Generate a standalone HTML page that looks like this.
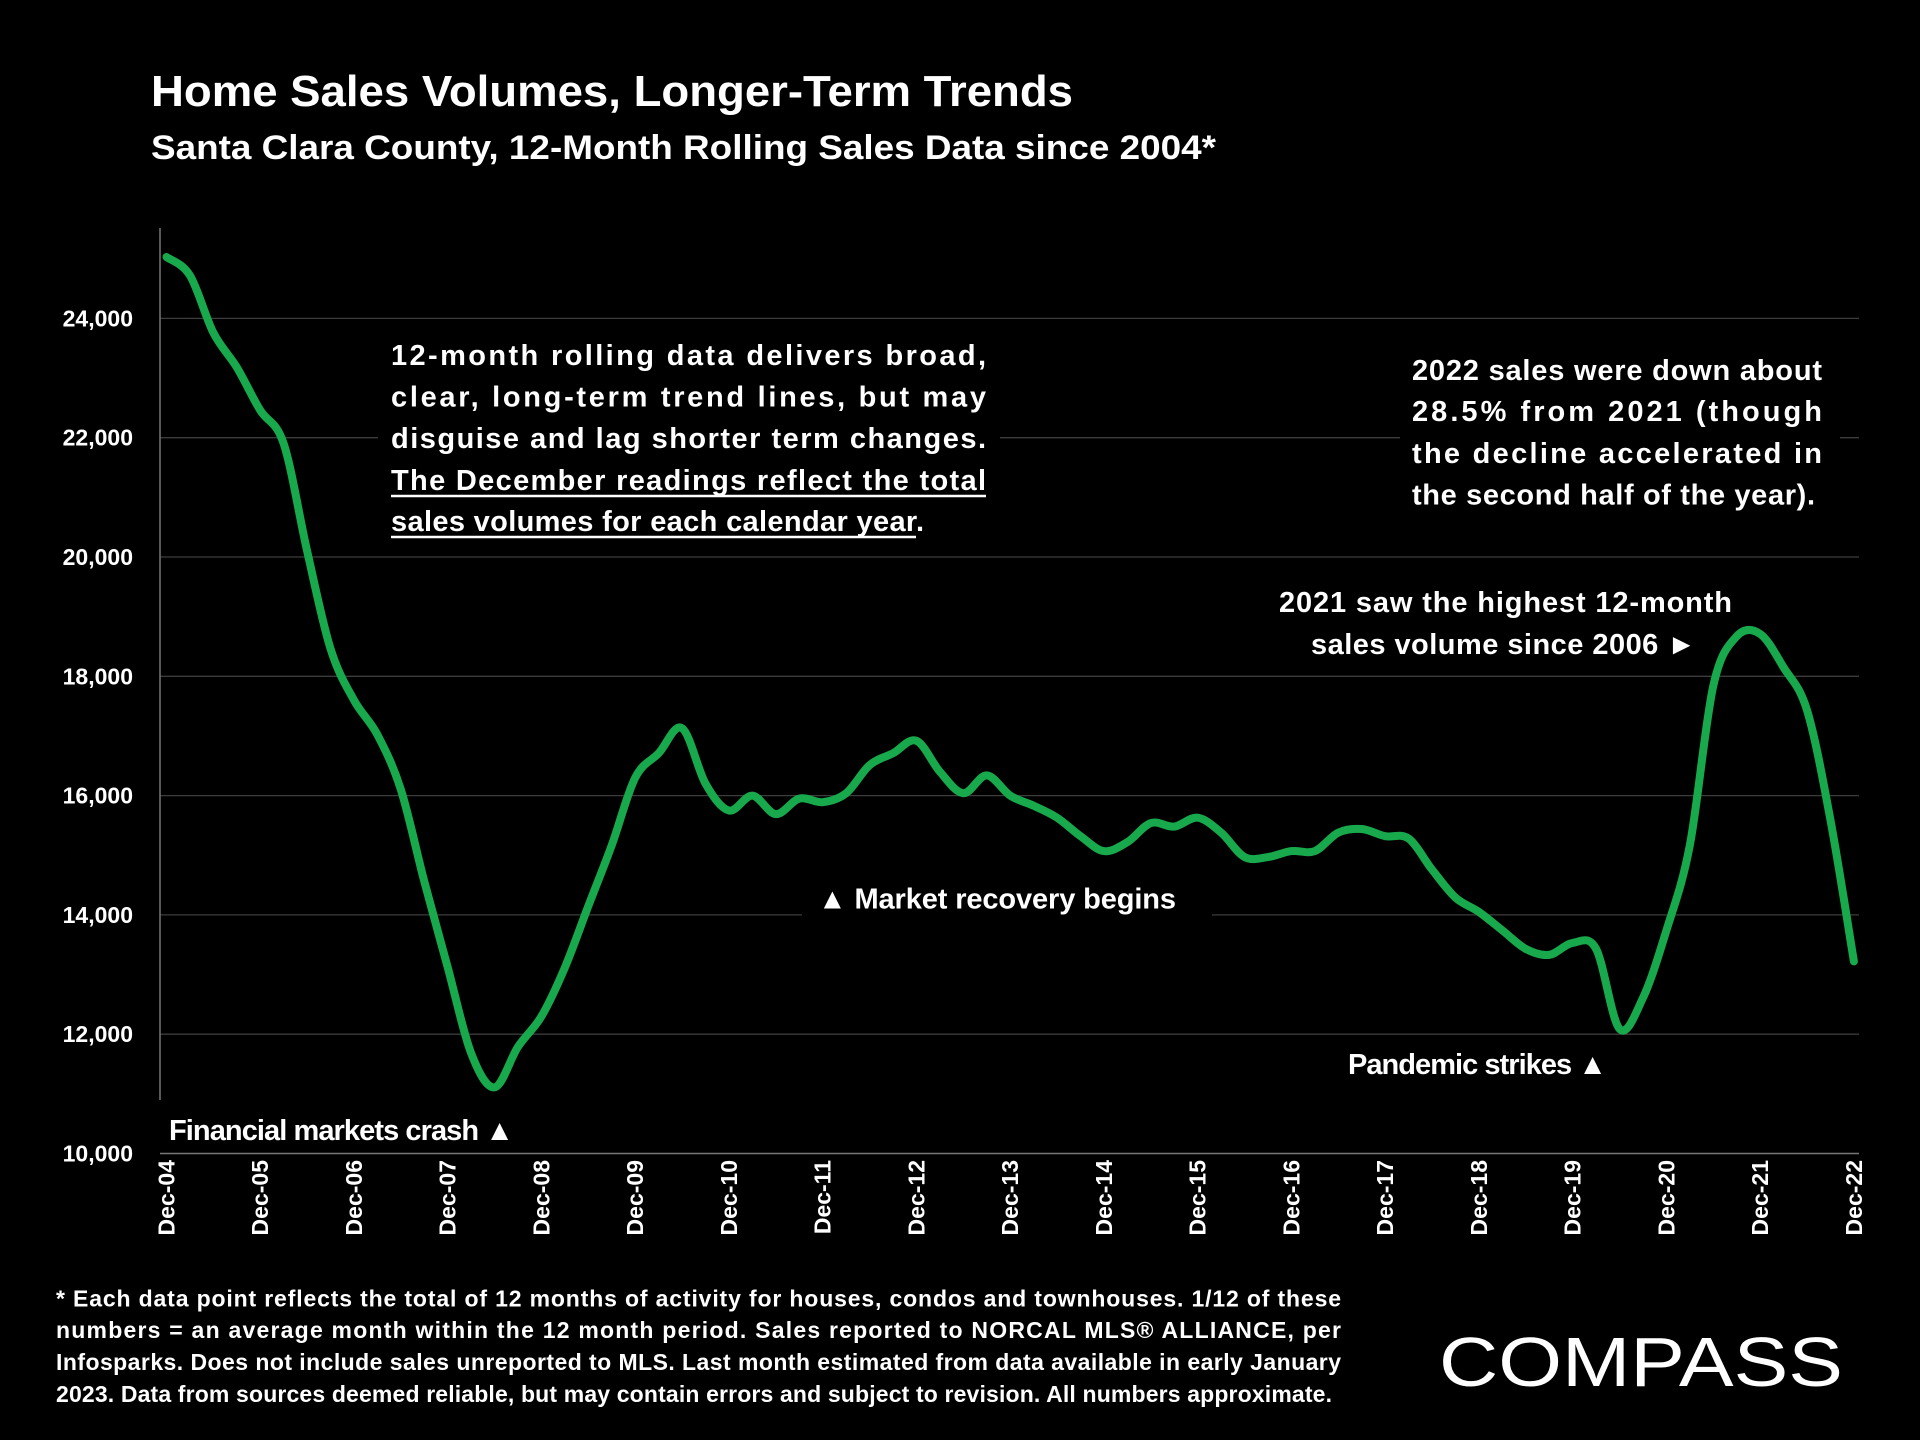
<!DOCTYPE html>
<html><head><meta charset="utf-8"><style>
html,body{margin:0;padding:0;background:#000;}
svg{display:block;}
text{font-family:"Liberation Sans",sans-serif;font-weight:bold;fill:#fff;}
</style></head><body>
<svg id="chart" width="1920" height="1440" viewBox="0 0 1920 1440" xmlns="http://www.w3.org/2000/svg">
<rect width="1920" height="1440" fill="#000"/>
<text x="151" y="106" font-size="44" textLength="922" lengthAdjust="spacingAndGlyphs">Home Sales Volumes, Longer-Term Trends</text>
<text x="151" y="159" font-size="34" textLength="1065" lengthAdjust="spacingAndGlyphs">Santa Clara County, 12-Month Rolling Sales Data since 2004*</text>
<g id="grid"></g>
<g id="yticks"></g>
<g id="xticks"></g>
<line x1="160" y1="228" x2="160" y2="1100" stroke="#777" stroke-width="1.5"/>
<line x1="160" y1="1153.5" x2="1859" y2="1153.5" stroke="#777" stroke-width="1.5"/>
<path id="line" fill="none" stroke="#18a94c" stroke-width="8" stroke-linejoin="round" stroke-linecap="round"/>

<g>
<rect x="378" y="330" width="622" height="215" fill="#000"/>
<text x="391" y="365" font-size="29" textLength="595" lengthAdjust="spacing">12-month rolling data delivers broad,</text>
<text x="391" y="406.5" font-size="29" textLength="595" lengthAdjust="spacing">clear, long-term trend lines, but may</text>
<text x="391" y="448" font-size="29" textLength="595" lengthAdjust="spacing">disguise and lag shorter term changes.</text>
<text x="391" y="490" font-size="29" textLength="595" lengthAdjust="spacing">The December readings reflect the total</text>
<line x1="391" y1="496" x2="986" y2="496" stroke="#fff" stroke-width="2.5"/>
<text x="391" y="531" font-size="29" textLength="533" lengthAdjust="spacing">sales volumes for each calendar year.</text>
<line x1="391" y1="537" x2="916" y2="537" stroke="#fff" stroke-width="2.5"/>
</g>

<g>
<rect x="1400" y="345" width="440" height="170" fill="#000"/>
<text x="1412" y="380" font-size="29" textLength="410" lengthAdjust="spacing">2022 sales were down about</text>
<text x="1412" y="421" font-size="29" textLength="410" lengthAdjust="spacing">28.5% from 2021 (though</text>
<text x="1412" y="463" font-size="29" textLength="410" lengthAdjust="spacing">the decline accelerated in</text>
<text x="1412" y="504.5" font-size="29" textLength="403" lengthAdjust="spacing">the second half of the year).</text>
</g>

<g>
<text x="1279" y="612" font-size="29" textLength="453" lengthAdjust="spacing">2021 saw the highest 12-month</text>
<text x="1311" y="654" font-size="29" textLength="385" lengthAdjust="spacing">sales volume since 2006 ►</text>
</g>

<g>
<rect x="802" y="880" width="410" height="40" fill="#000"/>
<text x="818" y="908.5" font-size="29" textLength="358" lengthAdjust="spacing">▲  Market recovery begins</text>
</g>

<g>
<text x="1348" y="1074" font-size="29" textLength="259" lengthAdjust="spacing">Pandemic strikes ▲</text>
</g>

<g>
<rect x="150" y="1108" width="390" height="40" fill="#000"/>
<text x="169" y="1140" font-size="29" textLength="345" lengthAdjust="spacing">Financial markets crash ▲</text>
</g>

<g>
<text x="56" y="1306.5" font-size="23" textLength="1285" lengthAdjust="spacing">* Each data point reflects the total of 12 months of activity for houses, condos and townhouses. 1/12 of these</text>
<text x="56" y="1338" font-size="23" textLength="1285" lengthAdjust="spacing">numbers = an average month within the 12 month period. Sales reported to NORCAL MLS® ALLIANCE, per</text>
<text x="56" y="1370" font-size="23" textLength="1285" lengthAdjust="spacing">Infosparks. Does not include sales unreported to MLS. Last month estimated from data available in early January</text>
<text x="56" y="1402" font-size="23" textLength="1276" lengthAdjust="spacing">2023. Data from sources deemed reliable, but may contain errors and subject to revision. All numbers approximate.</text>
</g>

<text x="1439" y="1386" font-size="70" style="font-weight:normal" textLength="404" lengthAdjust="spacingAndGlyphs">COMPASS</text>
</svg>
<script>
const months = [0,3,6,9,12,15,18,21,24,27,30,33,36,39,42,45,48,51,54,57,60,63,66,69,72,75,78,81,84,87,90,93,96,99,102,105,108,111,114,117,120,123,126,129,132,135,138,141,144,147,150,153,156,159,162,165,168,171,174,177,180,183,186,189,192,195,198,201,204,207,210,213,216];
const sales = [25030,24720,23760,23180,22460,21900,20100,18460,17600,17020,16100,14560,13120,11680,11110,11790,12300,13120,14150,15170,16300,16710,17130,16200,15750,16000,15690,15950,15890,16040,16510,16710,16920,16400,16040,16340,16000,15830,15630,15320,15070,15220,15540,15480,15630,15380,14970,14970,15070,15070,15380,15440,15320,15280,14760,14290,14050,13740,13430,13330,13530,13430,12090,12610,13740,15170,17840,18670,18710,18150,17430,15590,13220];
const yTicks = [10000,12000,14000,16000,18000,20000,22000,24000];
const xTickLabels = ["Dec-04","Dec-05","Dec-06","Dec-07","Dec-08","Dec-09","Dec-10","Dec-11","Dec-12","Dec-13","Dec-14","Dec-15","Dec-16","Dec-17","Dec-18","Dec-19","Dec-20","Dec-21","Dec-22"];

const X0=166.5,X1=1853.9,Y0=1153.5,Y1=318.4;
function xs(m){return X0+m/216*(X1-X0);}
function ys(v){return Y0-(v-10000)/14000*(Y0-Y1);}
const NS="http://www.w3.org/2000/svg";
const grid=document.getElementById('grid'),yt=document.getElementById('yticks'),xt=document.getElementById('xticks');
yTicks.forEach(v=>{
  if(v>10000){
    const l=document.createElementNS(NS,'line');
    
    
    l.setAttribute('x1',160);l.setAttribute('x2',1859);
    l.setAttribute('y1',ys(v));l.setAttribute('y2',ys(v));
    l.setAttribute('stroke','#3c3c3c');l.setAttribute('stroke-width','1.3');
    grid.appendChild(l);
  }
  const t=document.createElementNS(NS,'text');
  
  
  t.setAttribute('x',133);t.setAttribute('y',ys(v)+8);
  t.setAttribute('font-size','23');t.setAttribute('text-anchor','end');
  t.textContent=v.toLocaleString('en-US');
  yt.appendChild(t);
});
xTickLabels.forEach((s,i)=>{
  const x=xs(i*12);
  const t=document.createElementNS(NS,'text');
  
  
  t.setAttribute('font-size','23');t.setAttribute('text-anchor','end');
  t.setAttribute('transform','translate('+(x+8)+',1160) rotate(-90)');
  t.textContent=s;
  xt.appendChild(t);
});
const pts=months.map((m,i)=>[xs(m),ys(sales[i])]);
let d='M'+pts[0][0]+','+pts[0][1];
for(let i=0;i<pts.length-1;i++){
  const p0=pts[Math.max(0,i-1)],p1=pts[i],p2=pts[i+1],p3=pts[Math.min(pts.length-1,i+2)];
  const c1=[p1[0]+(p2[0]-p0[0])/6,p1[1]+(p2[1]-p0[1])/6];
  const c2=[p2[0]-(p3[0]-p1[0])/6,p2[1]-(p3[1]-p1[1])/6];
  d+=' C'+c1[0]+','+c1[1]+' '+c2[0]+','+c2[1]+' '+p2[0]+','+p2[1];
}
document.getElementById('line').setAttribute('d',d);
</script>
</body></html>
